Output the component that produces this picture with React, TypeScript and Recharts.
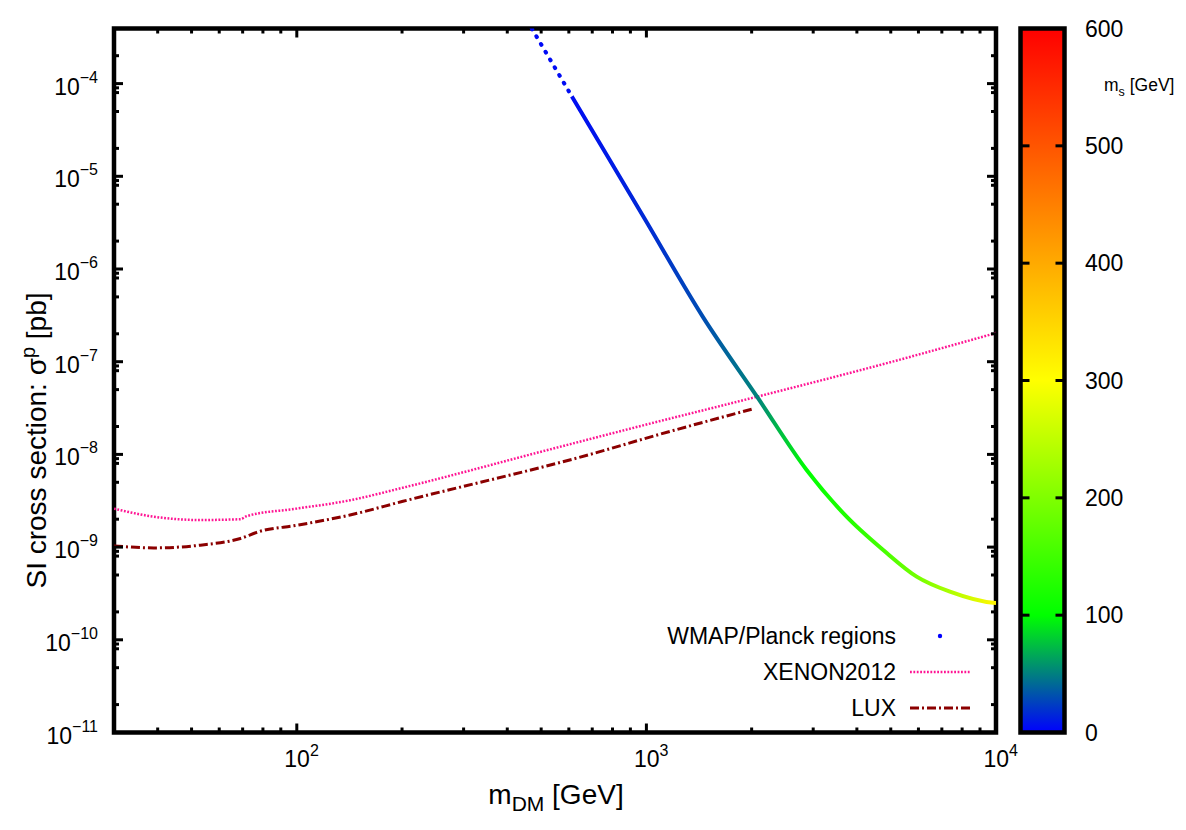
import React from "react";
import { ComposedChart, BarChart, Bar, Line, XAxis, YAxis, ReferenceArea, Legend } from "recharts";

const FONT = '"Liberation Sans", Arial, Helvetica, sans-serif';

// XENON2012 limit (m_DM in GeV, sigma in pb)
const massXenon = [30, 38, 53, 69, 72, 100, 142, 200, 500, 1000, 2000, 5000, 10000];
const sigmaXenon = [2.6e-9, 2.16e-9, 1.96e-9, 2.0e-9, 2.16e-9, 2.6e-9, 3.2e-9, 4.35e-9, 1.07e-8, 2.1e-8, 4.05e-8, 9.9e-8, 2.04e-7];

// LUX limit
const massLux = [30, 39, 53, 69, 78, 100, 142, 200, 736, 1000, 2000];
const sigmaLux = [1.03e-9, 9.8e-10, 1.05e-9, 1.24e-9, 1.47e-9, 1.72e-9, 2.22e-9, 3.1e-9, 1.07e-8, 1.5e-8, 3.07e-8];

// WMAP/Planck points: sparse upper stretch, then the dense band
const massRelicTop = [470, 612];
const sigmaRelicTop = [3.93e-4, 7.28e-5];
const msRelicTop = [3, 5];
const massRelic = [612, 787, 980, 1452, 2086, 2873, 3738, 4758, 5929, 7384, 9817, 10000];
const sigmaRelic = [7.28e-5, 1.48e-5, 3.69e-6, 3.03e-7, 4.05e-8, 6.8e-9, 2.13e-9, 9.3e-10, 4.8e-10, 3.3e-10, 2.51e-10, 2.5e-10];
const msRelic = [5, 10, 16, 30, 52, 100, 125, 155, 190, 235, 310, 320];

// axes
const xMajor = [100, 1000, 10000];
const xMinor = [40, 50, 60, 70, 80, 90, 200, 300, 400, 500, 600, 700, 800, 900, 2000, 3000, 4000, 5000, 6000, 7000, 8000, 9000];
const yMajor = [1e-11, 1e-10, 1e-9, 1e-8, 1e-7, 1e-6, 1e-5, 1e-4];
const yMinorMantissa = [2, 5, 8, 9];
const yTop = 3.93e-4;

// colour scale for m_s
const paletteValues = [0, 100, 300, 600];
const paletteColors = ["#0000ff", "#00ff00", "#ffff00", "#ff0000"];
const cbTicks = [0, 100, 200, 300, 400, 500, 600];

const legendItems = ["WMAP/Planck regions", "XENON2012", "LUX"];

function hex(c: string) {
  return [1, 3, 5].map((i) => parseInt(c.slice(i, i + 2), 16));
}

function colorAt(v: number) {
  let i = 0;
  while (i < paletteValues.length - 2 && v > paletteValues[i + 1]) i++;
  const t = Math.max(0, Math.min(1, (v - paletteValues[i]) / (paletteValues[i + 1] - paletteValues[i])));
  const a = hex(paletteColors[i]);
  const b = hex(paletteColors[i + 1]);
  const c = a.map((q, k) => Math.round(q + (b[k] - q) * t));
  return `rgb(${c[0]},${c[1]},${c[2]})`;
}

function gradStops(masses: number[], ms: number[]) {
  const a = Math.log10(masses[0]);
  const b = Math.log10(masses[masses.length - 1]);
  return masses.map((m, i) => ({ off: (Math.log10(m) - a) / (b - a), color: colorAt(ms[i]) }));
}

const toRows = (ms: number[], ss: number[]) => ms.map((m, i) => ({ m, s: ss[i] }));
const xenonData = toRows(massXenon, sigmaXenon);
const luxData = toRows(massLux, sigmaLux);
const relicTopData = toRows(massRelicTop, sigmaRelicTop);
const relicData = toRows(massRelic, sigmaRelic);

const xTicks = [...xMinor, ...xMajor].sort((a, b) => a - b);
const yTicks = [
  ...yMajor,
  ...yMajor.flatMap((d) => yMinorMantissa.map((k) => k * d)).filter((v) => v < yTop),
].sort((a, b) => a - b);

// layout
const W = 1040;
const H = 812;
const PL = 106;
const PR = 988;
const PT = 20.5;
const PB = 724.5;

const XTick = (props: any) => {
  const { x, payload } = props;
  const v = payload.value;
  const major = xMajor.includes(v);
  const len = major ? 9 : 5;
  const exp = Math.round(Math.log10(v));
  return (
    <g>
      <line x1={x} y1={PB} x2={x} y2={PB - len} stroke="#000" strokeWidth={3} />
      <line x1={x} y1={PT} x2={x} y2={PT + len} stroke="#000" strokeWidth={3} />
      {major && (
        <text x={x - 12.5} y={PB + 34} fontSize={23} fill="#000" fontFamily={FONT}>
          10
          <tspan dy={-11} fontSize={16}>
            {exp}
          </tspan>
        </text>
      )}
    </g>
  );
};

const YTick = (props: any) => {
  const { y, payload } = props;
  const v = payload.value;
  const major = yMajor.includes(v);
  const len = major ? 9 : 5;
  const exp = Math.round(Math.log10(v));
  return (
    <g>
      <line x1={PL} y1={y} x2={PL + len} y2={y} stroke="#000" strokeWidth={3} />
      <line x1={PR} y1={y} x2={PR - len} y2={y} stroke="#000" strokeWidth={3} />
      {major && (
        <text x={90} y={y + 11} textAnchor="end" fontSize={23} fill="#000" fontFamily={FONT}>
          10
          <tspan dy={-12} fontSize={16}>
            {"\u2212" + Math.abs(exp)}
          </tspan>
        </text>
      )}
    </g>
  );
};

const XTitle = () => (
  <text x={548} y={796} textAnchor="middle" fontSize={28} fill="#000" fontFamily={FONT}>
    m
    <tspan dy={7} fontSize={21}>
      DM
    </tspan>
    <tspan dy={-7}> [GeV]</tspan>
  </text>
);

const YTitle = () => (
  <text
    x={0}
    y={0}
    transform={`translate(38, ${(PT + PB) / 2 + 60}) rotate(-90)`}
    textAnchor="middle"
    fontSize={28}
    fill="#000"
    fontFamily={FONT}
  >
    SI cross section: σ
    <tspan dy={-11} fontSize={20}>
      p
    </tspan>
    <tspan dy={11}> [pb]</tspan>
  </text>
);

const RelicLegend = () => (
  <svg width={340} height={110} style={{ display: "block" }}>
    {legendItems.map((label, i) => {
      const base = 24 + i * 36;
      const mid = base - 8;
      return (
        <g key={label}>
          <text x={248} y={base} textAnchor="end" fontSize={23} fill="#000" fontFamily={FONT}>
            {label}
          </text>
          {i === 0 && <circle cx={292} cy={mid} r={2.2} fill="#0000ff" />}
          {i === 1 && <line x1={262} y1={mid} x2={322} y2={mid} stroke="#ff1493" strokeWidth={2.5} strokeDasharray="1.8 1.6" />}
          {i === 2 && <line x1={262} y1={mid} x2={322} y2={mid} stroke="#8b0000" strokeWidth={3} strokeDasharray="9 3 2 3" />}
        </g>
      );
    })}
  </svg>
);

// colour bar layout
const CW = 178;
const CL = 12.5;
const CR = 56.5;

const CbTick = (props: any) => {
  const { y, payload } = props;
  return (
    <g>
      <line x1={CL} y1={y} x2={CL + 9} y2={y} stroke="#000" strokeWidth={3} />
      <line x1={CR} y1={y} x2={CR - 9} y2={y} stroke="#000" strokeWidth={3} />
      <text x={77} y={y + 8} fontSize={23} fill="#000" fontFamily={FONT}>
        {payload.value}
      </text>
    </g>
  );
};

const CbTitle = () => (
  <text x={96} y={83} fontSize={17.5} fill="#000" fontFamily={FONT}>
    m
    <tspan dy={5} fontSize={12.5}>
      s
    </tspan>
    <tspan dy={-5}> [GeV]</tspan>
  </text>
);

function ColorBar() {
  return (
    <BarChart
      width={CW}
      height={H}
      data={[{ k: "ms", v: paletteValues[paletteValues.length - 1] }]}
      margin={{ top: PT, right: 0, bottom: H - PB, left: CL }}
      barCategoryGap={0}
    >
      <defs>
        <linearGradient id="cbGrad" x1="0" y1="1" x2="0" y2="0">
          {paletteValues.map((v, i) => (
            <stop key={v} offset={v / paletteValues[paletteValues.length - 1]} stopColor={paletteColors[i]} />
          ))}
        </linearGradient>
      </defs>
      <XAxis dataKey="k" hide />
      <YAxis
        orientation="right"
        width={CW - CR}
        domain={[0, 600]}
        ticks={cbTicks}
        interval={0}
        axisLine={false}
        tickLine={false}
        tick={(p: any) => <CbTick {...p} />}
        label={<CbTitle />}
      />
      <Bar dataKey="v" fill="url(#cbGrad)" stroke="#000" strokeWidth={4.5} isAnimationActive={false} />
    </BarChart>
  );
}

export default function App() {
  const topStops = gradStops(massRelicTop, msRelicTop);
  const mainStops = gradStops(massRelic, msRelic);
  return (
    <div style={{ position: "relative", width: 1170, height: H, fontFamily: FONT }}>
      <div style={{ position: "absolute", left: 0, top: 0 }}>
        <ComposedChart width={W} height={H} margin={{ top: PT, right: W - PR, bottom: H - PB - 60, left: 0 }}>
          <defs>
            <linearGradient id="relicTopGrad" x1="0" y1="0" x2="1" y2="0">
              {topStops.map((s, i) => (
                <stop key={i} offset={s.off} stopColor={s.color} />
              ))}
            </linearGradient>
            <linearGradient id="relicGrad" x1="0" y1="0" x2="1" y2="0">
              {mainStops.map((s, i) => (
                <stop key={i} offset={s.off} stopColor={s.color} />
              ))}
            </linearGradient>
          </defs>
          <XAxis
            dataKey="m"
            type="number"
            scale="log"
            domain={[30, 10000]}
            allowDataOverflow
            ticks={xTicks}
            interval={0}
            height={60}
            axisLine={false}
            tickLine={false}
            tick={(p: any) => <XTick {...p} />}
            label={<XTitle />}
          />
          <YAxis
            dataKey="s"
            type="number"
            scale="log"
            domain={[1e-11, yTop]}
            allowDataOverflow
            ticks={yTicks}
            interval={0}
            width={PL}
            axisLine={false}
            tickLine={false}
            tick={(p: any) => <YTick {...p} />}
            label={<YTitle />}
          />
          <Line
            data={xenonData}
            dataKey="s"
            type="monotone"
            stroke="#ff1493"
            strokeWidth={2.5}
            strokeDasharray="1.8 1.6"
            dot={false}
            isAnimationActive={false}
          />
          <Line
            data={luxData}
            dataKey="s"
            type="monotone"
            stroke="#8b0000"
            strokeWidth={3}
            strokeDasharray="9 3 2 3"
            dot={false}
            isAnimationActive={false}
          />
          <Line
            data={relicTopData}
            dataKey="s"
            type="linear"
            stroke="url(#relicTopGrad)"
            strokeWidth={4}
            strokeLinecap="round"
            strokeDasharray="1 8"
            dot={false}
            isAnimationActive={false}
          />
          <Line
            data={relicData}
            dataKey="s"
            type="monotone"
            stroke="url(#relicGrad)"
            strokeWidth={4}
            dot={false}
            isAnimationActive={false}
          />
          <ReferenceArea
            x1={30}
            x2={10000}
            y1={1e-11}
            y2={yTop}
            fill="none"
            stroke="#000"
            strokeWidth={4.5}
            ifOverflow="visible"
          />
          <Legend
            layout="vertical"
            align="center"
            verticalAlign="middle"
            content={() => <RelicLegend />}
            wrapperStyle={{ left: 640, top: 612, width: 340, height: 110 }}
          />
        </ComposedChart>
      </div>
      <div style={{ position: "absolute", left: 1000, top: 0 }}>
        <ColorBar />
      </div>
    </div>
  );
}
